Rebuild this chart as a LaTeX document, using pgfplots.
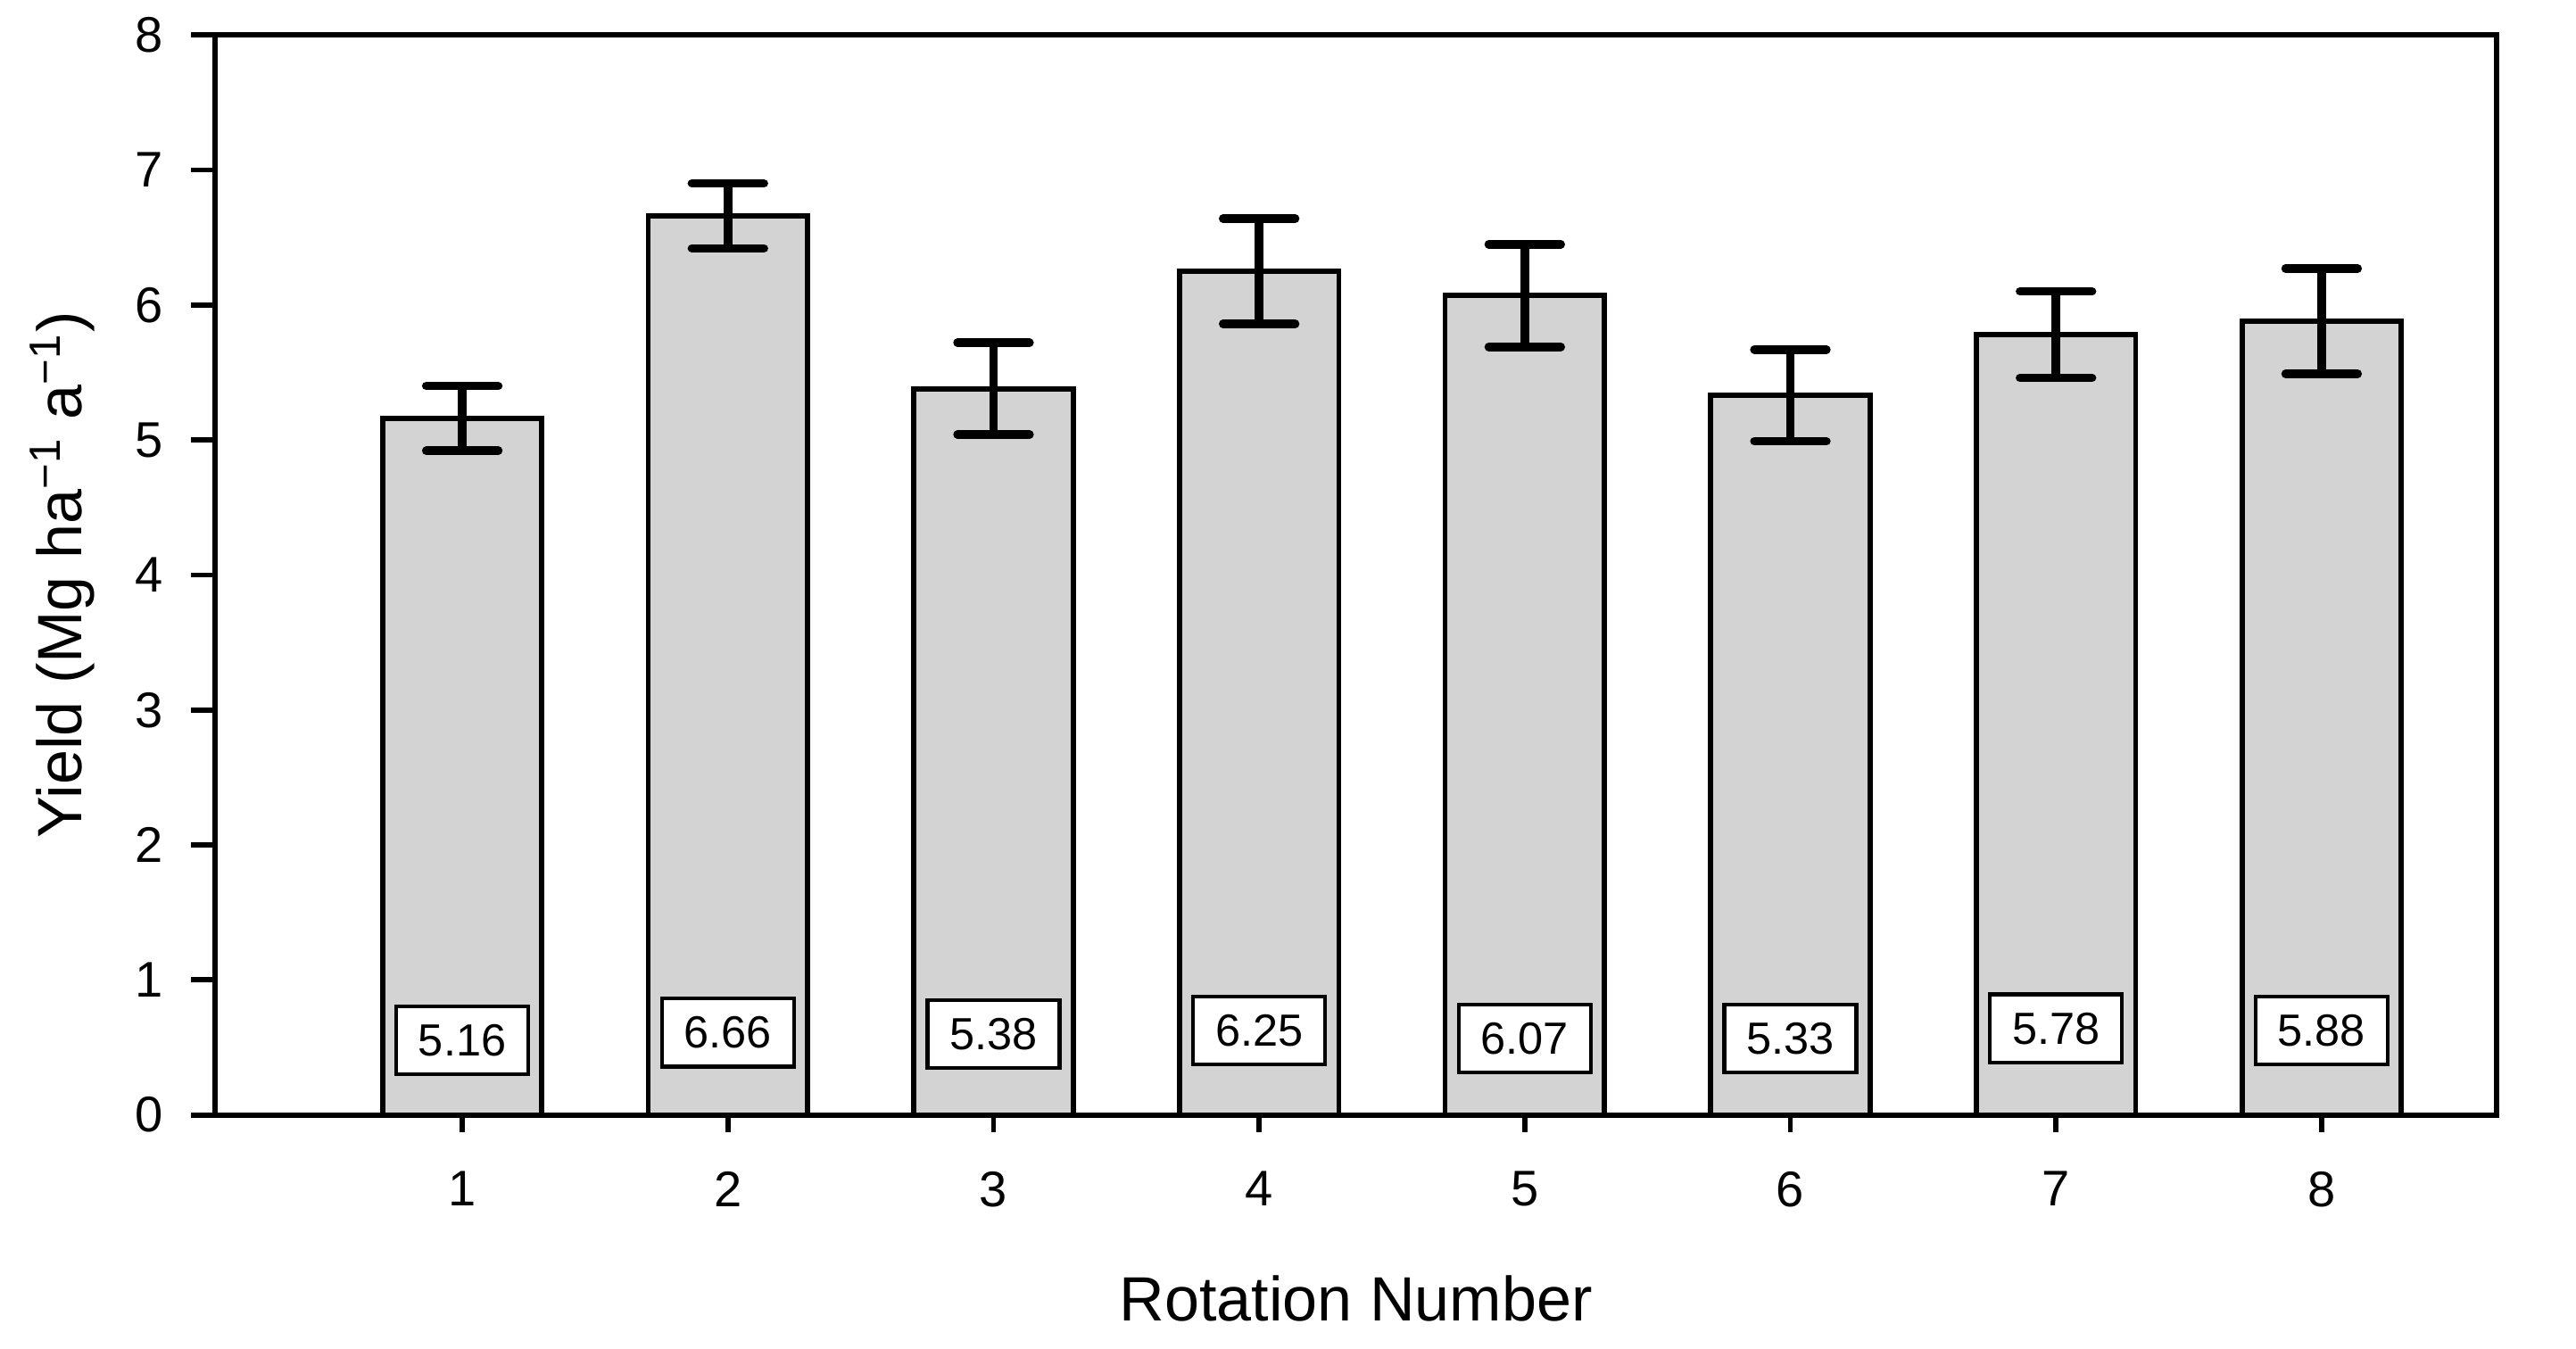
\documentclass[border=0pt]{standalone}
\usepackage{fontspec}
\setmainfont{Liberation Sans}
\usepackage{pgfplots}
\pgfplotsset{compat=1.18}
\definecolor{barfill}{HTML}{D3D3D3}

\begin{document}
\begin{tikzpicture}
\begin{axis}[
    at={(0,0)}, anchor=south west,
    scale only axis,
    width=456pt, height=215.8pt,
    xmin=0.068, xmax=8.66,
    ymin=0, ymax=8,
    xtick={1,2,3,4,5,6,7,8},
    ytick={0,1,2,3,4,5,6,7,8},
    xtick pos=left, ytick pos=left,
    tick align=outside,
    major tick length=4.8pt,
    axis line style={line width=1.05pt},
    every tick/.style={line width=1.05pt, black},
    x tick style={/pgfplots/major tick length=3.4pt},
    /pgf/number format/assume math mode=true,
    ticklabel style={font=\fontsize{10}{12}\selectfont},
    xticklabel style={yshift=-3pt},
    yticklabel style={xshift=-2pt},
    xlabel={Rotation Number},
    ylabel={Yield (Mg ha\textsuperscript{−1} a\textsuperscript{−1})},
    label style={font=\fontsize{12.5}{15}\selectfont},
    xlabel style={at={(axis description cs:0.5,-0.1696)}, anchor=center},
    ylabel style={at={(axis description cs:-0.0667,0.5)}, anchor=center},
]
\addplot[
    ybar, bar width=0.6,
    fill=barfill, draw=black, line width=1.05pt,
    error bars/.cd,
    y dir=both, y explicit,
    error mark=|,
    error bar style={line width=1.7pt, black},
    error mark options={line width=1.7pt, mark size=7.2pt, line cap=round, black},
] coordinates {
    (1,5.16) +- (0,0.24)
    (2,6.66) +- (0,0.24)
    (3,5.38) +- (0,0.34)
    (4,6.25) +- (0,0.39)
    (5,6.07) +- (0,0.38)
    (6,5.33) +- (0,0.34)
    (7,5.78) +- (0,0.32)
    (8,5.88) +- (0,0.39)
};
% value boxes near the bottom of each bar
\addplot[
    draw=none, mark=none,
    nodes near coords,
    point meta=explicit symbolic,
    nodes near coords align=center,
    every node near coord/.style={draw=black, fill=white, line width=0.75pt,
        inner sep=0pt, minimum width=26.4pt, minimum height=13.6pt,
        font=\fontsize{9}{10}\selectfont, anchor=center},
] coordinates {
    (1,0.553) [5.16]
    (2,0.61) [6.66]
    (3,0.60) [5.38]
    (4,0.627) [6.25]
    (5,0.566) [6.07]
    (6,0.566) [5.33]
    (7,0.641) [5.78]
    (8,0.627) [5.88]
};
\end{axis}
\path (-42.9pt,-46.6pt) rectangle (471.8pt,222.8pt);
\end{tikzpicture}
\end{document}
